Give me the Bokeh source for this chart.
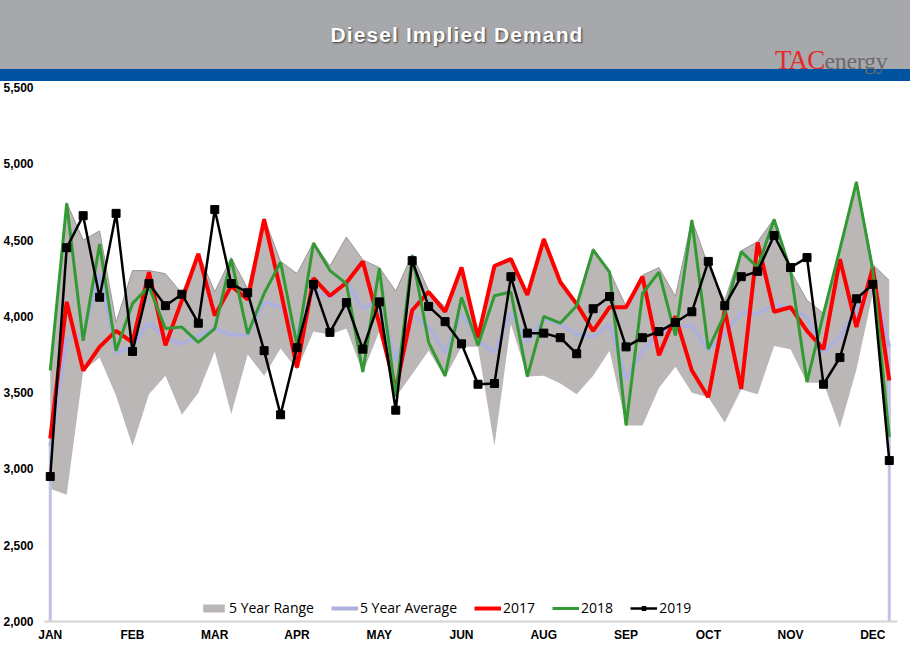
from bokeh.plotting import figure
from bokeh.models import (ColumnDataSource, Range1d, FixedTicker, NumeralTickFormatter,
                          Legend, LegendItem, Div)
from bokeh.layouts import column
from bokeh.embed import file_html
from bokeh.resources import INLINE

# ---------------- data ----------------
week = list(range(52))
month_labels = ["JAN", "FEB", "MAR", "APR", "MAY", "JUN", "AUG", "SEP", "OCT", "NOV", "DEC"]
month_weeks = [0, 5, 10, 15, 20, 25, 30, 35, 40, 45, 50]

range_low = [2870, 2830, 3640, 3730, 3480, 3150, 3490, 3610, 3355, 3500, 3770, 3360, 3750,
             3610, 3790, 3650, 3900, 3880, 3920, 3630, 3900, 3470, 3620, 3775, 3600, 3800,
             3800, 3150, 3950, 3605, 3610, 3560, 3490, 3610, 3775, 3285, 3285, 3530, 3670,
             3500, 3470, 3305, 3520, 3490, 3805, 3785, 3565, 3565, 3270, 3650, 4150, 3150]
range_high = [3660, 4745, 4500, 4560, 3960, 4300, 4300, 4280, 4150, 4415, 4160, 4385, 4180,
              4645, 4360, 4280, 4485, 4330, 4520, 4370, 4320, 4165, 4405, 4170, 4060, 4325,
              3890, 4340, 4385, 4145, 4515, 4230, 4095, 4445, 4295, 4065, 4270, 4320, 4130,
              4635, 4330, 4105, 4430, 4490, 4640, 4300, 4105, 4020, 4445, 4885, 4340, 4235]
avg5 = [3150, 3855, 3880, 4280, 3760, 3800, 3960, 3855, 3820, 3875, 3920, 3880, 3880,
        4095, 4060, 3890, 4170, 4125, 4230, 4050, 4110, 3705, 4010, 3935, 3760, 4015,
        3840, 3765, 4025, 3830, 3985, 3950, 3885, 3865, 3950, 3590, 3775, 3885, 3930,
        3940, 3775, 3885, 4025, 4015, 4080, 4050, 3995, 3765, 3865, 4040, 4245, 3800]
y2017 = [3200, 4095, 3645, 3800, 3905, 3830, 4290, 3810, 4105, 4410, 4005, 4200, 4110,
         4635, 4170, 3665, 4250, 4135, 4220, 4360, 3950, 3520, 4040, 4160, 4030, 4320,
         3860, 4330, 4375, 4140, 4505, 4225, 4080, 3905, 4060, 4060, 4260, 3745, 4000,
         3645, 3470, 4040, 3525, 4485, 4030, 4060, 3905, 3785, 4375, 3930, 4320, 3580]
y2018 = [3645, 4740, 3840, 4475, 3775, 4085, 4195, 3920, 3930, 3830, 3920, 4375, 3885,
         4150, 4355, 3810, 4480, 4300, 4215, 3635, 4315, 3475, 4400, 3830, 3610, 4125,
         3810, 4135, 4160, 3605, 4000, 3955, 4070, 4435, 4290, 3285, 4150, 4290, 3875,
         4630, 3785, 4015, 4425, 4320, 4635, 4300, 3570, 4015, 4440, 4880, 4300, 3210]
y2019 = [2950, 4450, 4660, 4125, 4675, 3770, 4215, 4070, 4145, 3955, 4700, 4215, 4155,
         3775, 3355, 3795, 4210, 3895, 4090, 3785, 4095, 3385, 4365, 4065, 3965, 3820,
         3555, 3560, 4260, 3890, 3890, 3860, 3755, 4050, 4130, 3800, 3860, 3900, 3960,
         4030, 4360, 4070, 4260, 4295, 4530, 4320, 4385, 3555, 3730, 4115, 4210, 3055]

src = ColumnDataSource(dict(week=week, low=range_low, high=range_high, avg=avg5,
                            y17=y2017, y18=y2018, y19=y2019))

# ---------------- header ----------------
header_html = """
<div style="position:relative;width:910px;height:81px;background:#a7a8ac;overflow:hidden;">
  <div style="position:absolute;left:0;top:69px;width:910px;height:12px;background:#0053a1;"></div>
  <div style="position:absolute;left:0;top:20px;width:914px;text-align:center;
              font-family:'Liberation Sans',Arial,sans-serif;font-weight:bold;font-size:21px;
              color:#ffffff;letter-spacing:1.1px;text-shadow:1px 1px 2px #3a3a3a;">Diesel Implied Demand</div>
  <div style="position:absolute;left:775px;top:47px;white-space:nowrap;
              font-family:'Liberation Serif','Times New Roman',serif;font-size:27px;letter-spacing:-0.8px;line-height:26px;">
     <span style="color:#e42a2a;">TAC</span><span style="color:#6b6b6b;font-size:24px;letter-spacing:-0.3px;">energy</span></div>
</div>
"""
header = Div(text=header_html, width=910, height=81, margin=0)

# ---------------- plot ----------------
p = figure(width=910, height=578, output_backend="svg", toolbar_location=None,
           x_range=Range1d(-0.35, 51.5), y_range=Range1d(2000, 5500),
           min_border_left=44, min_border_right=13, min_border_top=6, min_border_bottom=38,
           background_fill_color="white", border_fill_color="white", outline_line_color=None)
p.margin = 0
p.xgrid.visible = False
p.ygrid.visible = False

band = p.varea(x="week", y1="low", y2="high", source=src, fill_color="#bbb7b7")
p.line(x="week", y="high", source=src, line_color="#9a9696", line_width=1)
p.segment(x0=[week[0], week[-1]], y0=[avg5[0], avg5[-1]], x1=[week[0], week[-1]],
          y1=[2000, 2000], line_color="#c0c2e4", line_width=3)
avg_r = p.line(x="week", y="avg", source=src, line_color="#aeb0dc", line_width=4)
r17 = p.line(x="week", y="y17", source=src, line_color="#ff0000", line_width=4)
r18 = p.line(x="week", y="y18", source=src, line_color="#339a33", line_width=3)
r19 = p.line(x="week", y="y19", source=src, line_color="#000000", line_width=2.5)
m19 = p.scatter(x="week", y="y19", source=src, marker="square", size=8,
                fill_color="#000000", line_color="#000000")

# axes
p.yaxis.ticker = FixedTicker(ticks=[2000, 2500, 3000, 3500, 4000, 4500, 5000, 5500])
p.yaxis.formatter = NumeralTickFormatter(format="0,0")
p.xaxis.ticker = FixedTicker(ticks=month_weeks)
p.xaxis.major_label_overrides = {w: m for w, m in zip(month_weeks, month_labels)}
for ax in (p.xaxis[0], p.yaxis[0]):
    ax.major_tick_line_color = None
    ax.minor_tick_line_color = None
    ax.major_tick_out = 0
    ax.major_tick_in = 0
    ax.major_label_text_font = "Liberation Sans"
    ax.major_label_text_font_style = "bold"
    ax.major_label_text_font_size = "12px"
    ax.major_label_text_color = "#000000"
p.yaxis.axis_line_color = None
p.yaxis.major_label_standoff = 11
p.xaxis.axis_line_color = "#d4d4d4"
p.xaxis.axis_line_width = 2
p.xaxis.major_label_standoff = 6

legend = Legend(items=[
    LegendItem(label="5 Year Range", renderers=[band]),
    LegendItem(label="5 Year Average", renderers=[avg_r]),
    LegendItem(label="2017", renderers=[r17]),
    LegendItem(label="2018", renderers=[r18]),
    LegendItem(label="2019", renderers=[r19, m19]),
], orientation="horizontal", location=(156, 4))
legend.label_text_font = "Open Sans"
legend.label_text_font_size = "14px"
legend.label_text_color = "#000000"
legend.glyph_width = 27
legend.glyph_height = 10
legend.label_standoff = 2
legend.spacing = 17
legend.padding = 0
legend.margin = 0
legend.border_line_color = None
legend.background_fill_alpha = 0
p.add_layout(legend, "center")

layout = column(header, p, spacing=0)
open("out.html", "w").write(file_html(layout, INLINE))
